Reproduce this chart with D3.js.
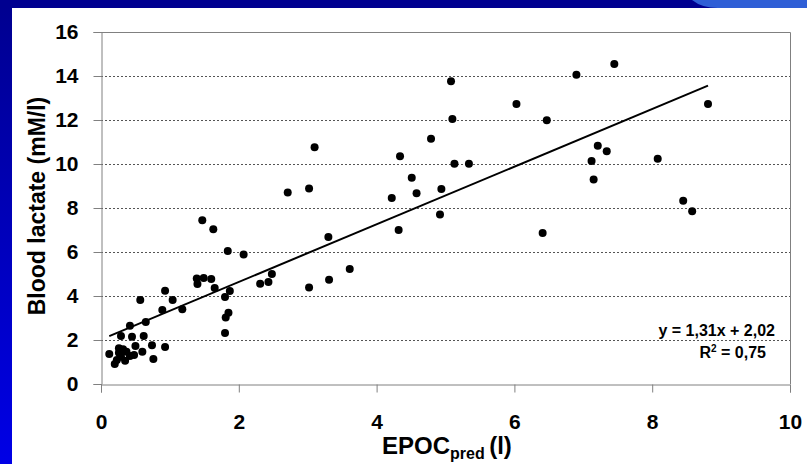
<!DOCTYPE html>
<html lang="en">
<head>
<meta charset="UTF-8">
<title>Blood lactate vs EPOC</title>
<script src="https://d3js.org/d3.v7.min.js"></script>
<style>
  body { margin: 0; background: #fff; }
  svg { display: block; font-family: "Liberation Sans", Arial, sans-serif; }
</style>
</head>
<body>
<svg class="chart" width="807" height="464"></svg>
<script>
// EPOC_pred (l) for each subject
const epoc = [0.12, 0.20, 0.23, 0.26, 0.26, 0.29, 0.29, 0.32, 0.35, 0.37,
  0.42, 0.42, 0.45, 0.48, 0.50, 0.57, 0.60, 0.62, 0.65, 0.74,
  0.76, 0.89, 0.93, 0.93, 1.04, 1.18, 1.39, 1.40, 1.47, 1.49,
  1.60, 1.63, 1.65, 1.80, 1.80, 1.81, 1.84, 1.85, 1.87, 2.07,
  2.31, 2.43, 2.48, 2.71, 3.02, 3.02, 3.10, 3.30, 3.31, 3.61,
  4.22, 4.32, 4.34, 4.51, 4.58, 4.79, 4.92, 4.94, 5.08, 5.10,
  5.13, 5.34, 6.03, 6.41, 6.47, 6.90, 7.12, 7.15, 7.21, 7.34,
  7.45, 8.08, 8.45, 8.58, 8.81];
// blood lactate (mM/l), same order
const lactate = [1.36, 0.91, 1.09, 1.42, 1.62, 1.24, 2.18, 1.58, 1.06, 1.47,
  1.27, 2.65, 2.15, 1.32, 1.73, 3.82, 1.47, 2.18, 2.82, 1.76,
  1.14, 3.36, 1.68, 4.24, 3.82, 3.40, 4.79, 4.55, 7.44, 4.82,
  4.77, 7.03, 4.36, 2.32, 3.95, 3.02, 6.05, 3.24, 4.23, 5.89,
  4.56, 4.64, 5.00, 8.70, 8.89, 4.39, 10.76, 6.68, 4.74, 5.23,
  8.45, 7.00, 10.35, 9.38, 8.67, 11.15, 7.71, 8.86, 13.76, 12.05,
  10.01, 10.01, 12.73, 6.86, 11.99, 14.06, 10.14, 9.30, 10.83, 10.58,
  14.55, 10.24, 8.33, 7.85, 12.73];

const xTicks = [0, 2, 4, 6, 8, 10];
const yTicks = [0, 2, 4, 6, 8, 10, 12, 14, 16];
const slope = 1.31;
const intercept = 2.02;
const eqLabel = 'y = 1,31x + 2,02';
const r2Value = '0,75';

const svg = d3.select('.chart');
const width = +svg.attr('width');
const height = +svg.attr('height');

// slide background: blue frame on top and left
const defs = svg.append('defs');
const grad = defs.append('linearGradient')
  .attr('id', 'leftband').attr('x1', 0).attr('y1', 0).attr('x2', 0).attr('y2', 1);
grad.append('stop').attr('offset', '0%').attr('stop-color', '#00008f');
grad.append('stop').attr('offset', '100%').attr('stop-color', '#0000e6');

svg.append('rect').attr('width', width).attr('height', height).attr('fill', 'url(#leftband)');
svg.append('rect').attr('width', width).attr('height', 8).attr('fill', '#000090');
svg.append('path')
  .attr('d', 'M692,0 Q702,8 718,8 L807,8 L807,0 Z')
  .attr('fill', '#2f5fd6');
svg.append('rect').attr('x', 12).attr('y', 8).attr('width', width - 12).attr('height', height - 8)
  .attr('fill', '#fff');

const x = d3.scaleLinear().domain([0, 10]).range([101, 790]);
const y = d3.scaleLinear().domain([0, 16]).range([384, 32]);

// dotted gridlines
svg.append('g')
  .selectAll('line')
  .data(yTicks.filter(d => d > 0 && d < 16))
  .enter()
  .append('line')
  .attr('x1', x(0)).attr('x2', x(10))
  .attr('y1', d => y(d) + 0.5).attr('y2', d => y(d) + 0.5)
  .attr('stroke', '#555')
  .attr('stroke-width', 1)
  .attr('stroke-dasharray', '2,2');

// plot frame top / right
svg.append('path')
  .attr('d', `M${x(0)},${y(16) + 0.5}H${x(10) + 0.5}V${y(0)}`)
  .attr('fill', 'none')
  .attr('stroke', '#808080');

const yAxis = svg.append('g')
  .attr('transform', `translate(${x(0) + 0.5},0)`)
  .call(d3.axisLeft(y).tickValues(yTicks).tickSize(8).tickPadding(15));
const xAxis = svg.append('g')
  .attr('transform', `translate(0,${y(0) + 0.5})`)
  .call(d3.axisBottom(x).tickValues(xTicks).tickSize(8).tickPadding(22));

[yAxis, xAxis].forEach(a => {
  a.select('.domain').attr('stroke', '#808080');
  a.selectAll('.tick line').attr('stroke', '#808080');
  a.selectAll('.tick text')
    .attr('fill', '#000')
    .attr('font-size', '21px')
    .attr('font-weight', 'bold')
    .attr('font-family', '"Liberation Sans", Arial, sans-serif');
});

// trend line over the data range
const xMin = d3.min(epoc);
const xMax = d3.max(epoc);
svg.append('line')
  .attr('x1', x(xMin)).attr('y1', y(slope * xMin + intercept))
  .attr('x2', x(xMax)).attr('y2', y(slope * xMax + intercept))
  .attr('stroke', '#000')
  .attr('stroke-width', 2);

// points
svg.append('g')
  .selectAll('circle')
  .data(epoc.map((v, i) => ({ x: v, y: lactate[i] })))
  .enter()
  .append('circle')
  .attr('cx', d => x(d.x))
  .attr('cy', d => y(d.y))
  .attr('r', 4)
  .attr('fill', '#000');

// equation
svg.append('text')
  .attr('x', 775).attr('y', 336)
  .attr('text-anchor', 'end')
  .attr('font-size', '16px').attr('font-weight', 'bold')
  .text(eqLabel);
const r2 = svg.append('text')
  .attr('x', 766).attr('y', 358)
  .attr('text-anchor', 'end')
  .attr('font-size', '16px').attr('font-weight', 'bold');
r2.append('tspan').text('R');
r2.append('tspan').attr('dy', -6).attr('font-size', '10px').text('2');
r2.append('tspan').attr('dy', 6).text(' = ' + r2Value);

// axis titles
svg.append('text')
  .attr('transform', 'translate(45,206) rotate(-90)')
  .attr('text-anchor', 'middle')
  .attr('font-size', '23px').attr('font-weight', 'bold')
  .text('Blood lactate (mM/l)');

const xt = svg.append('text')
  .attr('x', 382).attr('y', 454)
  .attr('font-size', '24px').attr('font-weight', 'bold');
xt.append('tspan').text('EPOC');
xt.append('tspan').attr('dy', 5).attr('font-size', '16px').text('pred ');
xt.append('tspan').attr('dy', -5).text('(l)');
</script>
</body>
</html>
